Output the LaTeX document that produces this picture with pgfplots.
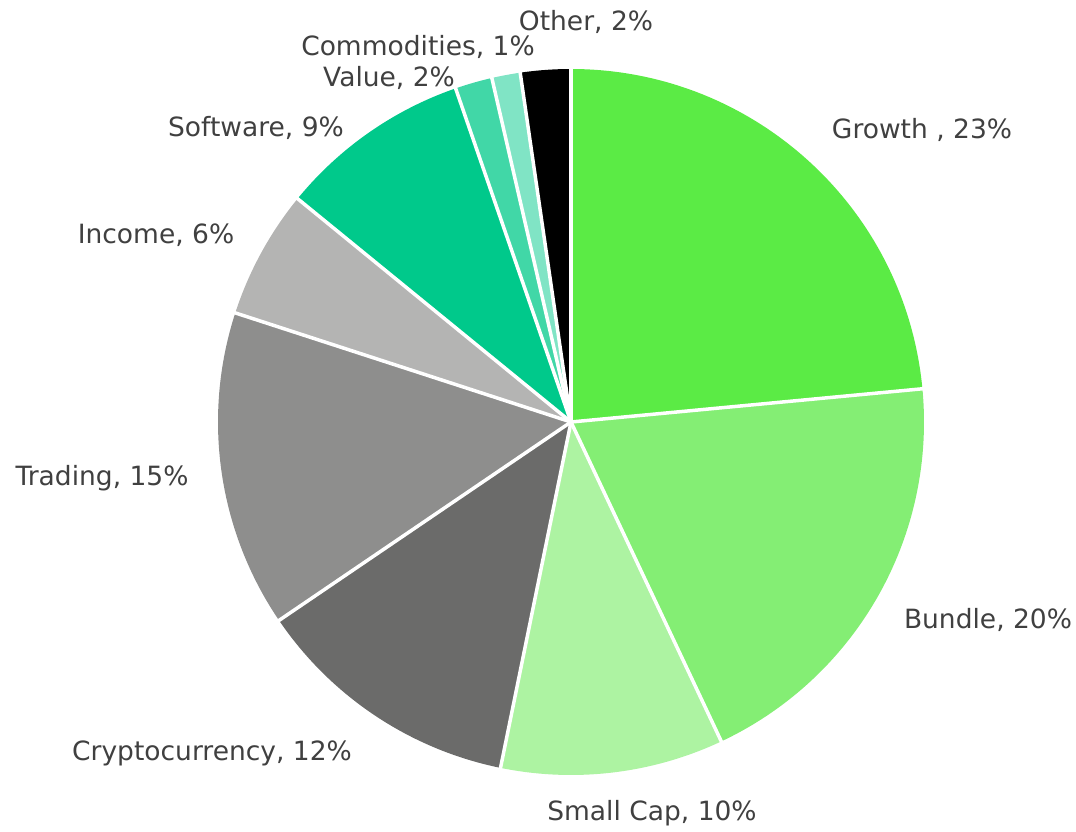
\documentclass[border=0pt]{standalone}
\usepackage{pgfplots}
\usepackage{pgfplotstable}
\pgfplotsset{compat=1.18}
\usepackage{fontspec}
\setmainfont{DejaVu Sans}
\definecolor{c0}{HTML}{5BEB45}
\definecolor{c1}{HTML}{84EE74}
\definecolor{c2}{HTML}{ADF3A2}
\definecolor{c3}{HTML}{6B6B6A}
\definecolor{c4}{HTML}{8E8E8D}
\definecolor{c5}{HTML}{B4B4B3}
\definecolor{c6}{HTML}{00C98B}
\definecolor{c7}{HTML}{41D7A7}
\definecolor{c8}{HTML}{80E4C5}
\definecolor{c9}{HTML}{000000}
\definecolor{labtext}{HTML}{404040}
\pgfplotstableread[col sep=semicolon]{
v;lx;ly;label
23.5;922;701;Growth , 23\%
19.5;988;211;Bundle, 20\%
10.2;652;18;Small Cap, 10\%
12.3;212;78;Cryptocurrency, 12\%
14.5;102;353;Trading, 15\%
5.9;156;596;Income, 6\%
8.8;256;703;Software, 9\%
1.7;389;753;Value, 2\%
1.3;418;784;Commodities, 1\%
2.3;586;809;Other, 2\%
}\piedata
\begin{document}
\begin{tikzpicture}
\begin{axis}[
  hide axis, scale only axis,
  width=1076pt, height=831pt,
  xmin=0, xmax=1076, ymin=0, ymax=831,
  clip=false,
]
\path (rel axis cs:0,0) rectangle (rel axis cs:1,1);
\pgfplotstablegetrowsof{\piedata}
\pgfmathtruncatemacro\nrows{\pgfplotsretval-1}
\def\cum{0}
\pgfplotsforeachungrouped \i in {0,...,\nrows}{%
  \pgfplotstablegetelem{\i}{v}\of\piedata \let\val\pgfplotsretval
  \pgfmathsetmacro\sa{90-3.6*\cum}%
  \pgfmathsetmacro\ea{90-3.6*(\cum+\val)}%
  \pgfmathsetmacro\cum{\cum+\val}%
  \edef\temp{\noexpand\fill[c\i] (axis cs:571,409) -- ([shift={(\sa:353pt)}]axis cs:571,409) arc[start angle=\sa, end angle=\ea, radius=353pt] -- cycle;}%
  \temp
}
\def\cum{0}
\pgfplotsforeachungrouped \i in {0,...,\nrows}{%
  \pgfplotstablegetelem{\i}{v}\of\piedata \let\val\pgfplotsretval
  \pgfmathsetmacro\sa{90-3.6*\cum}%
  \pgfmathsetmacro\cum{\cum+\val}%
  \edef\temp{\noexpand\draw[white, line width=3.5pt, line cap=round] (axis cs:571,409) -- ([shift={(\sa:353.5pt)}]axis cs:571,409);}%
  \temp
  \pgfplotstablegetelem{\i}{lx}\of\piedata \let\lx\pgfplotsretval
  \pgfplotstablegetelem{\i}{ly}\of\piedata \let\ly\pgfplotsretval
  \pgfplotstablegetelem{\i}{label}\of\piedata \let\lab\pgfplotsretval
  \edef\temp{\noexpand\node[text=labtext, font=\noexpand\fontsize{26.5}{30}\noexpand\selectfont, inner sep=0pt] at (axis cs:\lx,\ly) {\unexpanded\expandafter{\lab}};}%
  \temp
}
\end{axis}
\end{tikzpicture}
\end{document}
